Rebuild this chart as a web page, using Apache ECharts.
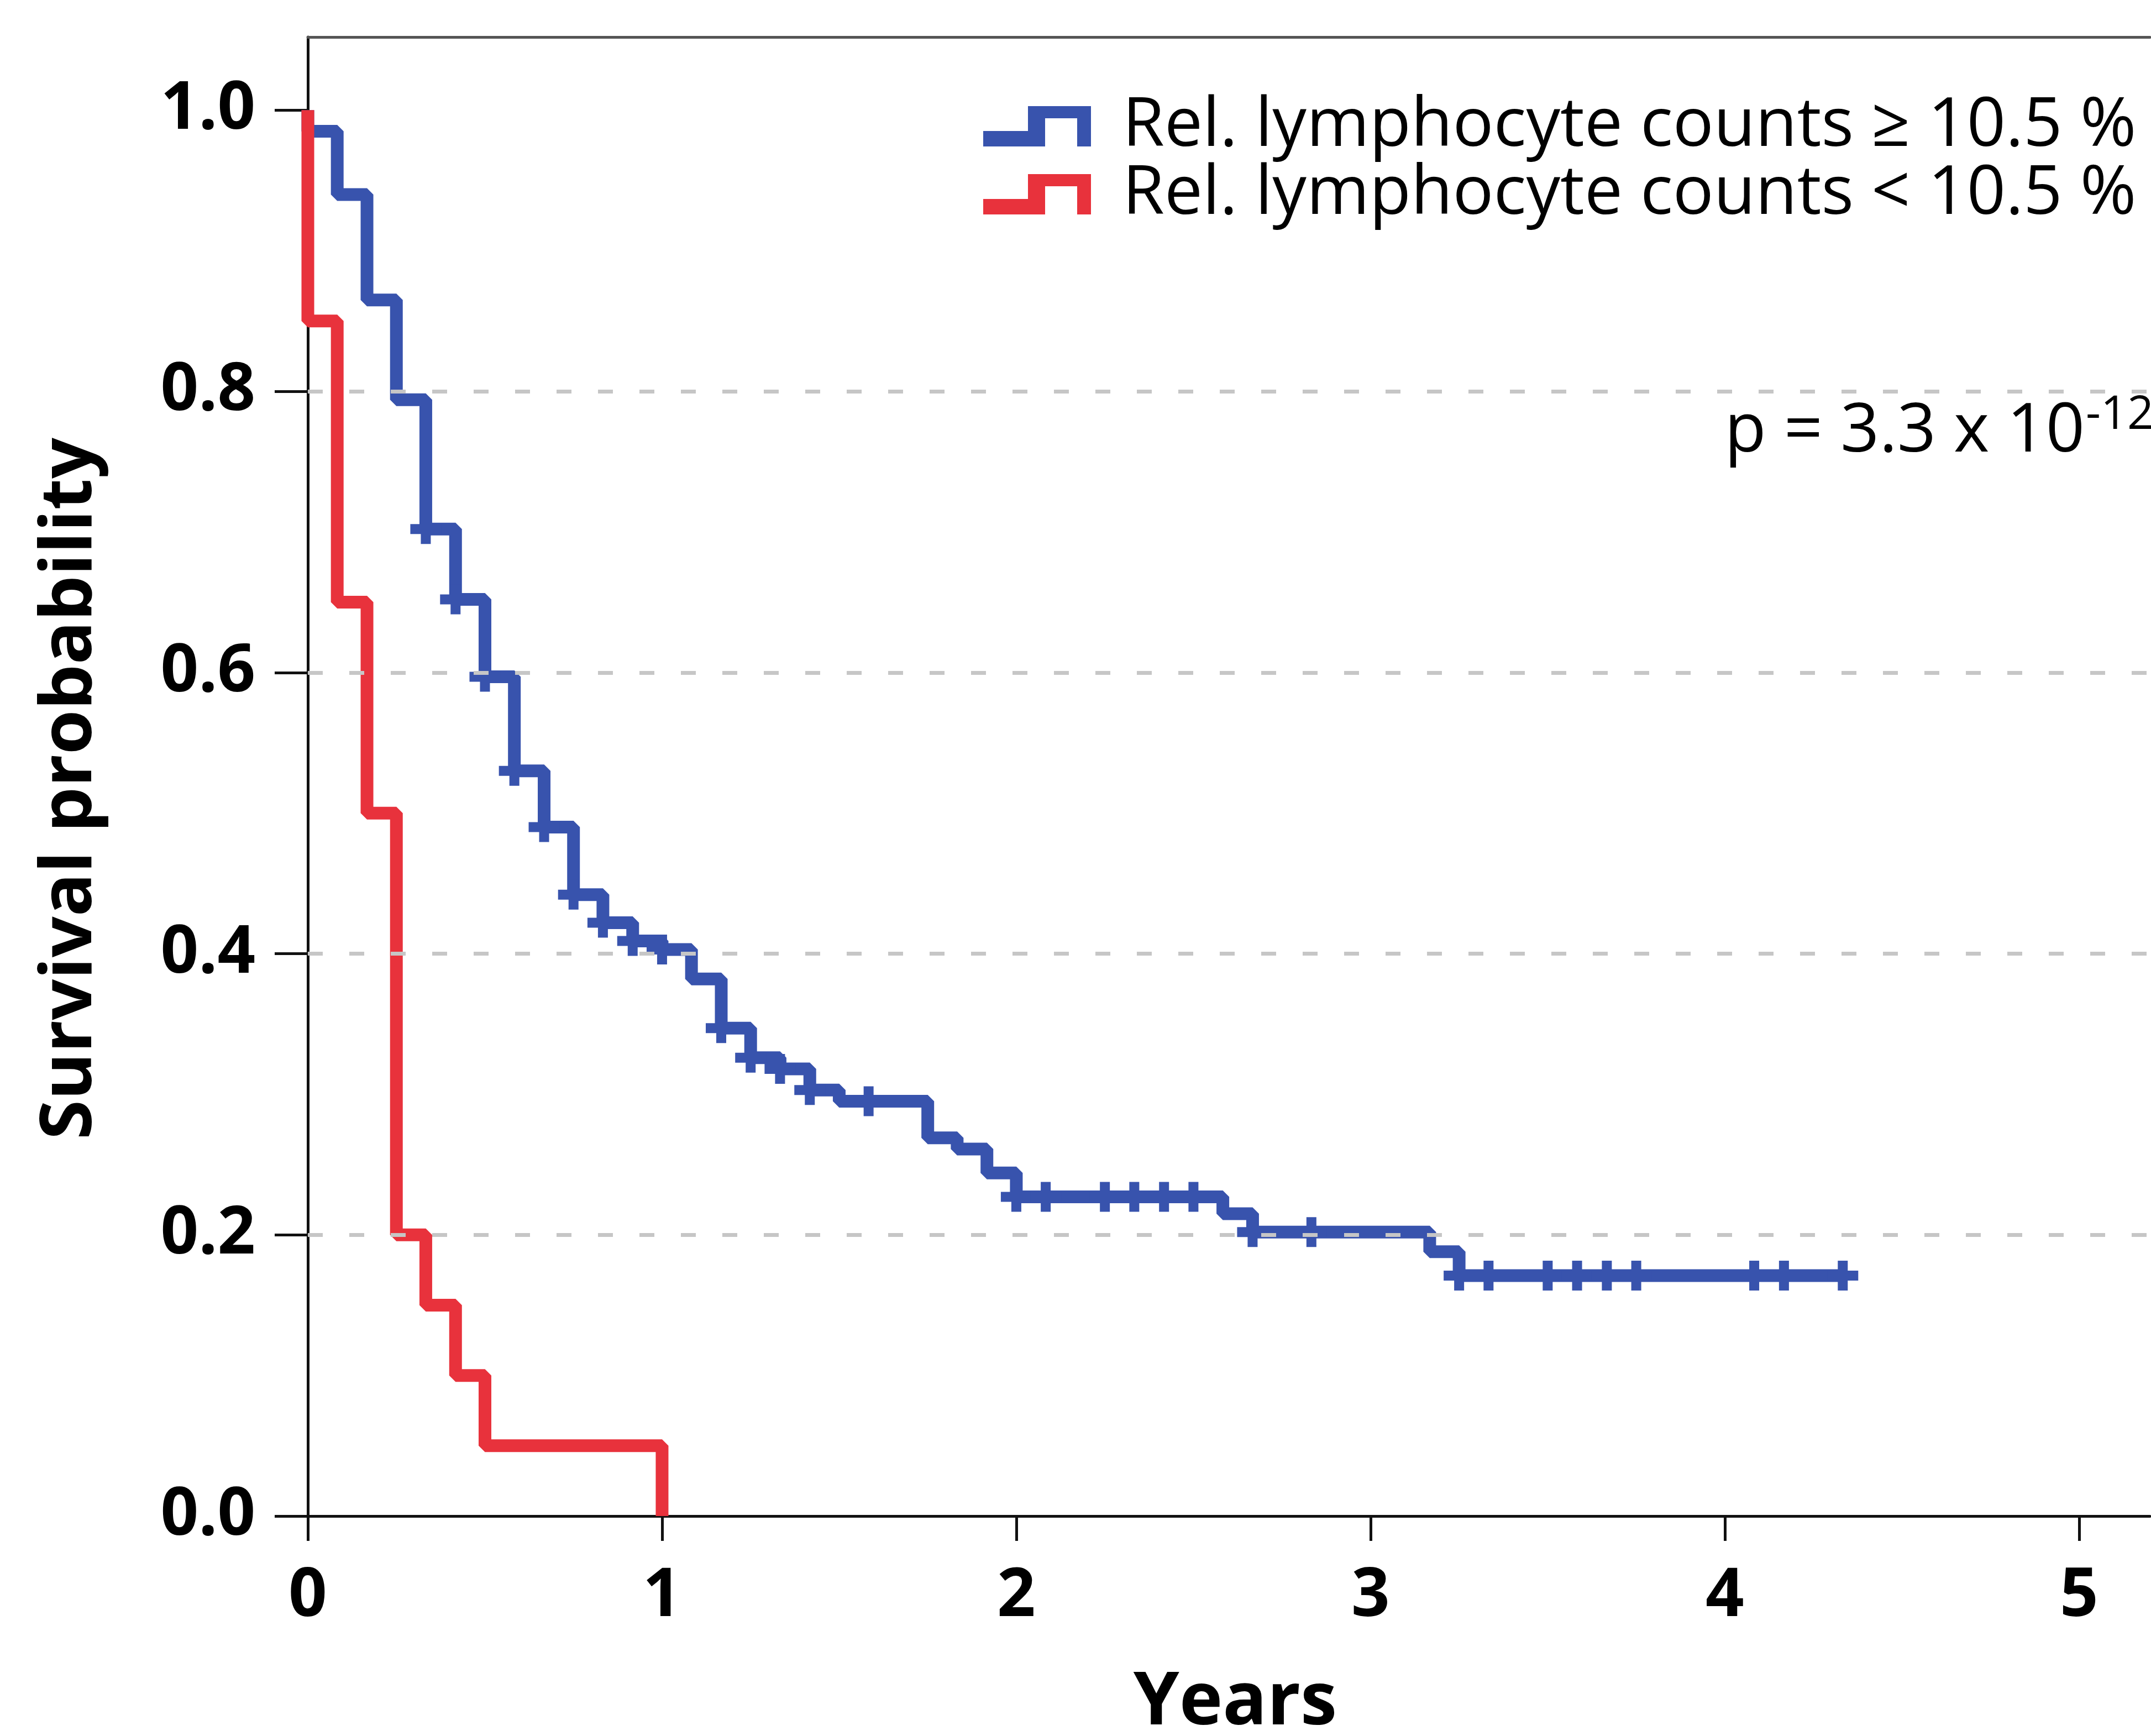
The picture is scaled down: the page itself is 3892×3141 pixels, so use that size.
<!DOCTYPE html>
<html>
<head>
<meta charset="utf-8">
<title>Survival by relative lymphocyte counts</title>
<script src="https://cdn.jsdelivr.net/npm/echarts@6/dist/echarts.min.js"></script>
<style>
  html, body { margin: 0; padding: 0; background: #ffffff; }
  #chart { width: 3892px; height: 3141px; }
</style>
</head>
<body>
<div id="chart"></div>
<script>
// Kaplan-Meier estimates: time (years) where the curve changes, survival after that time
const HIGH_NAME = 'Rel. lymphocyte counts \u2265 10.5 %';
const LOW_NAME = 'Rel. lymphocyte counts < 10.5 %';

const highTimes = [0, 0, 0.083, 0.167, 0.25, 0.333, 0.417, 0.5, 0.583, 0.667, 0.75, 0.833, 0.917, 1.0,
  1.083, 1.167, 1.25, 1.333, 1.417, 1.5, 1.75, 1.833, 1.917, 2.0, 2.583, 2.667, 3.167, 3.25, 4.333];
const highSurv = [1.0, 0.985, 0.940, 0.865, 0.794, 0.702, 0.652, 0.597, 0.530, 0.490, 0.442, 0.422, 0.409, 0.403,
  0.382, 0.347, 0.326, 0.318, 0.303, 0.295, 0.269, 0.261, 0.244, 0.227, 0.215, 0.202, 0.188, 0.171, 0.171];
// censored observations (years)
const highCensored = [0.333, 0.417, 0.5, 0.583, 0.667, 0.75, 0.833, 0.917, 1.0, 1.167, 1.25, 1.333, 1.417, 1.583,
  2.0, 2.083, 2.25, 2.333, 2.417, 2.5, 2.667, 2.833, 3.25, 3.333, 3.5, 3.583, 3.667, 3.75, 4.083, 4.167, 4.333];

const lowTimes = [0, 0, 0.083, 0.167, 0.25, 0.333, 0.417, 0.5, 1.0];
const lowSurv = [1.0, 0.85, 0.65, 0.50, 0.20, 0.15, 0.10, 0.05, 0.0];

const xTicks = [0, 1, 2, 3, 4, 5];
const yTicks = [0, 0.2, 0.4, 0.6, 0.8, 1.0];
const gridLevels = [0.2, 0.4, 0.6, 0.8];
const pText = 'p = 3.3 x 10';
const pExponent = '-12';

const BLUE = '#3853ad';
const RED = '#e8323c';
const FONT = '"Open Sans", "Noto Sans", sans-serif';

// step value of a curve at time t (value after any drop at t)
function survivalAt(times, surv, t) {
  let v = surv[0];
  for (let i = 0; i < times.length; i++) {
    if (times[i] <= t + 1e-9) v = surv[i];
  }
  return v;
}

const highLine = highTimes.map((t, i) => [t, highSurv[i]]);
const lowLine = lowTimes.map((t, i) => [t, lowSurv[i]]);
const highMarks = highCensored.map(t => [t, survivalAt(highTimes, highSurv, t)]);

// plus-shaped censor mark, legend step glyph
const PLUS = 'path://M19,0 H37 V18 H56 V36 H37 V54 H19 V36 H0 V18 H19 Z';
const STEP_ICON = 'path://M0,73 V45 H81 V0 H195 V73 H170 V22 H112 V73 Z';

const chart = echarts.init(document.getElementById('chart'), null, { renderer: 'canvas' });

chart.setOption({
  animation: false,
  backgroundColor: '#ffffff',
  grid: {
    left: 557, right: 2, top: 67, bottom: 398,
    containLabel: false, outerBoundsMode: 'none'
  },
  legend: {
    data: [HIGH_NAME, LOW_NAME],
    orient: 'vertical',
    left: 1779, top: 167,
    padding: 0,
    itemGap: 0,
    itemWidth: 195, itemHeight: 73,
    icon: STEP_ICON,
    itemStyle: { borderWidth: 0 },
    selectedMode: false,
    textStyle: {
      fontFamily: FONT, fontSize: 123, fontWeight: 'normal', color: '#000000',
      lineHeight: 117, padding: [0, 0, 0, 52]
    }
  },
  xAxis: [
    {
      type: 'value', min: 0, max: 5.2, interval: 1, position: 'bottom',
      axisLine: { show: true, onZero: false, lineStyle: { color: '#111111', width: 5 } },
      axisTick: { show: true, inside: false, length: 45, customValues: xTicks,
        lineStyle: { color: '#111111', width: 5 } },
      axisLabel: { show: true, customValues: xTicks, margin: 85,
        fontFamily: FONT, fontSize: 122, fontWeight: 'bold', color: '#000000',
        formatter: v => String(v) },
      splitLine: { show: false }
    },
    {
      type: 'value', min: 0, max: 5.2, position: 'top',
      axisLine: { show: true, onZero: false, lineStyle: { color: '#555555', width: 5 } },
      axisTick: { show: false }, axisLabel: { show: false }, splitLine: { show: false }
    }
  ],
  yAxis: {
    type: 'value', min: 0, max: 1.052,
    axisLine: { show: true, onZero: false, lineStyle: { color: '#111111', width: 5 } },
    axisTick: { show: true, inside: false, length: 60, customValues: yTicks,
      lineStyle: { color: '#111111', width: 5 } },
    axisLabel: { show: true, customValues: yTicks, margin: 95,
      fontFamily: FONT, fontSize: 120, fontWeight: 'bold', color: '#000000',
      formatter: v => v.toFixed(1) },
    splitLine: { show: false }
  },
  series: [
    {
      name: 'gridlines', type: 'line', data: [], z: 1, silent: true,
      markLine: {
        silent: true, symbol: ['none', 'none'], label: { show: false },
        lineStyle: { color: '#c6c6c6', width: 7, type: [27, 48], opacity: 1 },
        emphasis: { disabled: true },
        data: gridLevels.map(v => ({ yAxis: v }))
      }
    },
    {
      name: HIGH_NAME, type: 'line', step: 'end', data: highLine, z: 3,
      symbol: 'none', showSymbol: false, clip: false, color: BLUE,
      itemStyle: { color: BLUE },
      lineStyle: { color: BLUE, width: 23, opacity: 1 }
    },
    {
      name: 'censored', type: 'scatter', data: highMarks, z: 3,
      symbol: PLUS, symbolSize: [56, 54], clip: false,
      itemStyle: { color: BLUE, opacity: 1 }
    },
    {
      name: LOW_NAME, type: 'line', step: 'end', data: lowLine, z: 4,
      symbol: 'none', showSymbol: false, clip: false, color: RED,
      itemStyle: { color: RED },
      lineStyle: { color: RED, width: 23, opacity: 1 }
    }
  ],
  graphic: [
    {
      type: 'text', x: 128, y: 1427, rotation: Math.PI / 2,
      style: { text: 'Survival probability', fontFamily: FONT, fontSize: 130, fontWeight: 'bold',
        fill: '#000000', align: 'center', verticalAlign: 'middle',
        textAlign: 'center', textVerticalAlign: 'middle' }
    },
    {
      type: 'text', x: 2235, y: 3082,
      style: { text: 'Years', fontFamily: FONT, fontSize: 133, fontWeight: 'bold',
        fill: '#000000', align: 'center', verticalAlign: 'middle',
        textAlign: 'center', textVerticalAlign: 'middle' }
    },
    {
      type: 'text', x: 3772, y: 782,
      style: { text: pText, fontFamily: FONT, fontSize: 123, fontWeight: 'normal',
        fill: '#000000', align: 'right', verticalAlign: 'middle',
        textAlign: 'right', textVerticalAlign: 'middle' }
    },
    {
      type: 'text', x: 3774, y: 752,
      style: { text: pExponent, fontFamily: FONT, fontSize: 84, fontWeight: 'normal',
        fill: '#000000', align: 'left', verticalAlign: 'middle',
        textAlign: 'left', textVerticalAlign: 'middle' }
    }
  ]
});
</script>
</body>
</html>
